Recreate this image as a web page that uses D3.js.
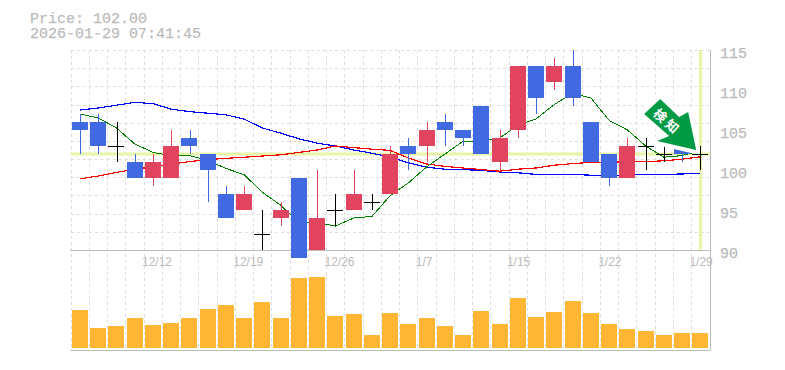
<!DOCTYPE html>
<html>
<head>
<meta charset="utf-8">
<script src="https://cdn.jsdelivr.net/npm/d3@7"></script>
<style>
    html, body { margin: 0; padding: 0; background: #fff; overflow: hidden; }
    svg { display: block; }
    .title { font-family: "Liberation Mono", monospace; font-size: 15px; fill: #bbb; stroke: #bbb; stroke-width: 0.25px; }
    .price-axis text { font-family: "Liberation Mono", monospace; font-size: 15px; fill: #bbb; stroke: #bbb; stroke-width: 0.25px; }
    .date-axis text { font-family: "Liberation Sans", sans-serif; font-size: 12px; fill: #bbb; }
</style>
</head>
<body>
<div id="chart"></div>
<script>
const dates = ['12/8','12/9','12/10','12/11','12/12','12/15','12/16','12/17','12/18','12/19',
    '12/22','12/23','12/24','12/25','12/26','12/29','12/30','1/5','1/6','1/7',
    '1/8','1/9','1/13','1/14','1/15','1/16','1/19','1/20','1/21','1/22',
    '1/23','1/26','1/27','1/28','1/29'];
const opens = [106,106,103,101,99,99,104,102,97,95,92,94,99,90,95,95,96,97,103,103,
    106,105,108,101,105,113,111,113,106,102,99,103,102,103,102];
const closes = [105,103,103,99,101,103,103,100,94,97,92,95,89,94,95,97,96,102,102,105,
    105,104,102,104,113,109,113,109,101,99,103,103,102,102,102];
const highs = [107,107,106,102,102,105,105,102,98,98,95,96,99,100,97,100,97,103,104,106,
    107,105,108,105,113,113,114,115,106,102,104,104,103,103,103];
const lows = [102,102,101,99,98,99,102,96,94,95,90,93,89,90,93,95,95,97,100,101,
    103,103,102,100,104,107,110,108,101,98,99,100,101,101,100];
const ma5 = [107,106.5,105.25,103.25,102.2,101.8,101.8,101.2,100.2,99.4,97.2,95.6,93.4,93.4,93,94,94.2,96.8,98.4,100.4,
    102,103.6,103.6,104,105.6,106.4,108.2,109.6,109,106.2,105,103,101.6,101.8,102.4];
const ma25 = [98.9,99.25,99.7,100.1,100.4,100.75,101.05,101.3,101.45,101.6,101.75,101.9,102.2,102.5,103,102.8,102.6,102.45,101.5,100.75,
    100.45,100.25,100.05,99.85,100.1,100.25,100.6,100.8,100.95,101,101,101.05,101.15,101.35,101.65];
const ma75 = [107.5,107.75,108.1,108.45,108.3,107.6,107.3,107.1,106.9,106.35,105.25,104.6,103.9,103.35,103,102.5,102.1,101.6,100.9,100.35,
    100.1,100.05,99.95,99.75,99.65,99.45,99.45,99.45,99.35,99.35,99.35,99.45,99.45,99.5,99.6];
const volume = [38,20,22,30,23,25,30,39,43,30,46,30,70,71,32,34,13,35,24,30,
    22,13,37,24,50,31,36,47,35,24,19,17,13,15,15];
const priceTicks = [90,95,100,105,110,115];
const dateTicks = ['12/12','12/19','12/26','1/7','1/15','1/22','1/29'];
const lastPrice = 102;
const titleLines = ['Price: 102.00', '2026-01-29 07:41:45'];

const width = 785, height = 370;
const plotLeft = 70.7, plotRight = 710, plotTop = 50, priceBottom = 250, volBottom = 350;
const colors = { up: '#e2435f', down: '#4169e1', flat: '#000', grid: '#ddd', frame: '#bbb',
    mark: '#e6f5a8', vol: '#ffb733', arrow: '#009944' };

const svg = d3.select('#chart').append('svg')
    .attr('width', width).attr('height', height);

// one band per trading day, bars fill 16px of the 18.2px step
const x = d3.scaleBand(dates, [plotLeft + 1.3, plotRight - 1.55]).paddingInner(0.12).paddingOuter(0);
const y = d3.scaleLinear([90, 115], [priceBottom, plotTop]);
const yVol = d3.scaleLinear([0, 100], [volBottom - 2, volBottom - 102]);
const cx = d => x(d) + x.bandwidth() / 2;

// grid
const grid = svg.append('g').attr('stroke', colors.grid).attr('stroke-dasharray', '3,3');
grid.selectAll('.v').data(dates).join('line').attr('class', 'v')
    .attr('x1', d => Math.round(x(d) - 1.3) + 0.5).attr('x2', d => Math.round(x(d) - 1.3) + 0.5)
    .attr('y1', plotTop).attr('y2', volBottom);
grid.selectAll('.h').data(d3.range(12)).join('line').attr('class', 'h')
    .attr('x1', plotLeft).attr('x2', plotRight)
    .attr('y1', d => Math.round(y(90 + d * 25 / 11)) + 0.5).attr('y2', d => Math.round(y(90 + d * 25 / 11)) + 0.5);

// last price markers
const last = dates[dates.length - 1];
svg.append('line').attr('x1', plotLeft).attr('x2', plotRight)
    .attr('y1', y(lastPrice)).attr('y2', y(lastPrice))
    .attr('stroke', colors.mark).attr('stroke-width', 3);
svg.append('line').attr('x1', cx(last)).attr('x2', cx(last))
    .attr('y1', plotTop).attr('y2', priceBottom)
    .attr('stroke', colors.mark).attr('stroke-width', 3);

// frame
const frame = svg.append('g').attr('stroke', colors.frame).attr('fill', 'none');
frame.append('path').attr('d', `M${plotRight + 0.5},${plotTop}V${volBottom + 0.5}`);
frame.append('path').attr('d', `M${plotLeft - 0.7},${priceBottom + 0.5}H${plotRight}`);
frame.append('path').attr('d', `M${plotLeft - 0.7},${volBottom + 0.5}H${plotRight}`);

// moving averages sit under the candles, aliased like the original
const line = d3.line().x((d, i) => cx(dates[i])).y(d => y(d));
[[ma75, '#0000ff', 1.2], [ma25, '#ff0000', 1.2], [ma5, '#008000', 1]].forEach(([s, c, w]) => {
    svg.append('path').datum(s).attr('d', line).attr('fill', 'none')
        .attr('stroke', c).attr('stroke-width', w)
        .attr('shape-rendering', 'crispEdges');
});

// candles
const color = i => closes[i] > opens[i] ? colors.up : closes[i] < opens[i] ? colors.down : colors.flat;
const candles = svg.selectAll('.candle').data(dates).join('g').attr('class', 'candle');
candles.append('line')
    .attr('x1', d => Math.round(cx(d)) + 0.5).attr('x2', d => Math.round(cx(d)) + 0.5)
    .attr('y1', (d, i) => y(highs[i])).attr('y2', (d, i) => y(lows[i]))
    .attr('stroke', (d, i) => color(i));
candles.append('rect')
    .attr('x', d => Math.round(x(d))).attr('width', Math.round(x.bandwidth()))
    .attr('y', (d, i) => y(Math.max(opens[i], closes[i])))
    .attr('height', (d, i) => Math.max(1, Math.abs(y(opens[i]) - y(closes[i]))))
    .attr('fill', (d, i) => color(i));

// volume
svg.selectAll('.vol').data(dates).join('rect').attr('class', 'vol')
    .attr('x', d => Math.round(x(d))).attr('width', Math.round(x.bandwidth()))
    .attr('y', (d, i) => yVol(volume[i]))
    .attr('height', (d, i) => yVol(0) - yVol(volume[i]))
    .attr('fill', colors.vol);

// axes, labels only
const priceAxis = svg.append('g').attr('class', 'price-axis')
    .attr('transform', `translate(${plotRight + 7},3)`)
    .call(d3.axisRight(y).tickValues(priceTicks).tickSize(0));
const dateAxis = svg.append('g').attr('class', 'date-axis')
    .attr('transform', `translate(0,${priceBottom + 4})`)
    .call(d3.axisBottom(x).tickValues(dateTicks).tickSize(0));
priceAxis.select('.domain').remove();
dateAxis.select('.domain').remove();
dateAxis.selectAll('text').attr('text-anchor', 'start').attr('x', -x.bandwidth() / 2 - 3);

// title
svg.selectAll('.title').data(titleLines).join('text').attr('class', 'title')
    .attr('x', 30).attr('y', (d, i) => 23 + i * 14.5).text(d => d);

// signal arrow, drawn from its tip next to the 1/28 candle; white halo clips what is under it
const arrow = svg.append('g')
    .attr('transform', `translate(${cx(dates[33]) + 14},${y(103) + 4})`);
arrow.append('path')
    .attr('d', 'M-36,-51L-52,-36L-27,-14L-39,-9L0,0L-8,-38L-17,-33Z')
    .attr('fill', colors.arrow)
    .attr('stroke', '#fff').attr('stroke-width', 8).attr('stroke-linejoin', 'round')
    .attr('paint-order', 'stroke');
arrow.append('text')
    .attr('transform', 'translate(-29,-28) rotate(42)')
    .attr('text-anchor', 'middle').attr('dy', '0.35em')
    .attr('font-family', '"Noto Sans CJK JP", sans-serif')
    .attr('font-size', 13).attr('font-weight', 700).attr('letter-spacing', 3)
    .attr('fill', '#fff').text('検知');
</script>
</body>
</html>
